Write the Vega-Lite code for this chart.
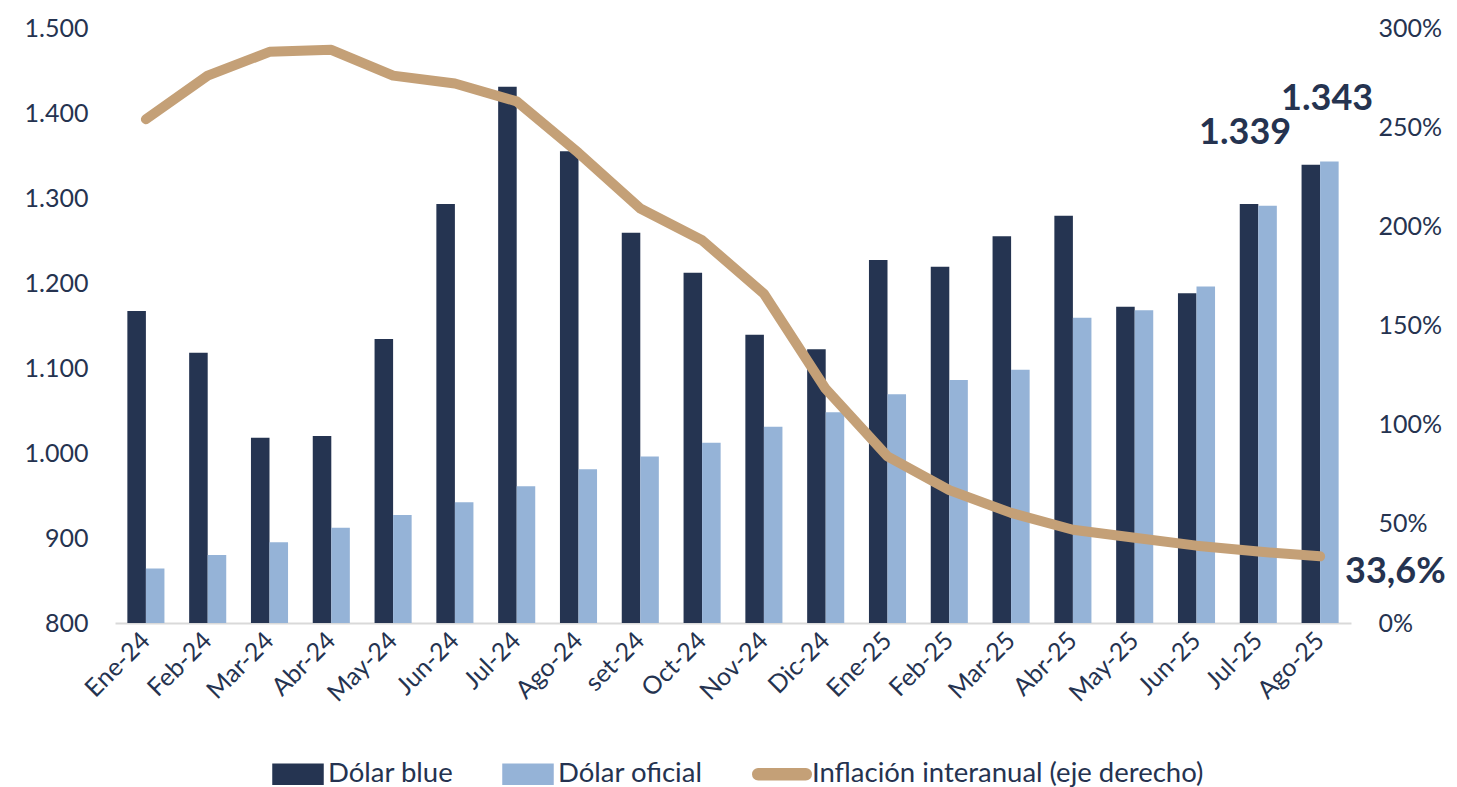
{
  "$schema": "https://vega.github.io/schema/vega-lite/v6.json",
  "width": 1236,
  "height": 595,
  "autosize": {"type": "none"},
  "padding": {"left": 115, "top": 28, "right": 106, "bottom": 164},
  "background": "white",
  "config": {
    "locale": {"number": {"decimal": ",", "thousands": ".", "grouping": [3], "currency": ["$", ""]}},
    "font": "Lato",
    "view": {"stroke": null},
    "axis": {"labelFont": "Lato", "labelFontSize": 25, "labelColor": "#253350", "grid": false, "ticks": false, "domain": false, "title": null}
  },
  "datasets": {
    "dolar": [
      {"mes": "Ene-24", "serie": "Dólar blue", "valor": 1167}, {"mes": "Ene-24", "serie": "Dólar oficial", "valor": 864},
      {"mes": "Feb-24", "serie": "Dólar blue", "valor": 1118}, {"mes": "Feb-24", "serie": "Dólar oficial", "valor": 880},
      {"mes": "Mar-24", "serie": "Dólar blue", "valor": 1018}, {"mes": "Mar-24", "serie": "Dólar oficial", "valor": 895},
      {"mes": "Abr-24", "serie": "Dólar blue", "valor": 1020}, {"mes": "Abr-24", "serie": "Dólar oficial", "valor": 912},
      {"mes": "May-24", "serie": "Dólar blue", "valor": 1134}, {"mes": "May-24", "serie": "Dólar oficial", "valor": 927},
      {"mes": "Jun-24", "serie": "Dólar blue", "valor": 1293}, {"mes": "Jun-24", "serie": "Dólar oficial", "valor": 942},
      {"mes": "Jul-24", "serie": "Dólar blue", "valor": 1431}, {"mes": "Jul-24", "serie": "Dólar oficial", "valor": 961},
      {"mes": "Ago-24", "serie": "Dólar blue", "valor": 1355}, {"mes": "Ago-24", "serie": "Dólar oficial", "valor": 981},
      {"mes": "set-24", "serie": "Dólar blue", "valor": 1259}, {"mes": "set-24", "serie": "Dólar oficial", "valor": 996},
      {"mes": "Oct-24", "serie": "Dólar blue", "valor": 1212}, {"mes": "Oct-24", "serie": "Dólar oficial", "valor": 1012},
      {"mes": "Nov-24", "serie": "Dólar blue", "valor": 1139}, {"mes": "Nov-24", "serie": "Dólar oficial", "valor": 1031},
      {"mes": "Dic-24", "serie": "Dólar blue", "valor": 1122}, {"mes": "Dic-24", "serie": "Dólar oficial", "valor": 1048},
      {"mes": "Ene-25", "serie": "Dólar blue", "valor": 1227}, {"mes": "Ene-25", "serie": "Dólar oficial", "valor": 1069},
      {"mes": "Feb-25", "serie": "Dólar blue", "valor": 1219}, {"mes": "Feb-25", "serie": "Dólar oficial", "valor": 1086},
      {"mes": "Mar-25", "serie": "Dólar blue", "valor": 1255}, {"mes": "Mar-25", "serie": "Dólar oficial", "valor": 1098},
      {"mes": "Abr-25", "serie": "Dólar blue", "valor": 1279}, {"mes": "Abr-25", "serie": "Dólar oficial", "valor": 1159},
      {"mes": "May-25", "serie": "Dólar blue", "valor": 1172}, {"mes": "May-25", "serie": "Dólar oficial", "valor": 1168},
      {"mes": "Jun-25", "serie": "Dólar blue", "valor": 1188}, {"mes": "Jun-25", "serie": "Dólar oficial", "valor": 1196},
      {"mes": "Jul-25", "serie": "Dólar blue", "valor": 1293}, {"mes": "Jul-25", "serie": "Dólar oficial", "valor": 1291},
      {"mes": "Ago-25", "serie": "Dólar blue", "valor": 1339}, {"mes": "Ago-25", "serie": "Dólar oficial", "valor": 1343}
    ],
    "inflacion": [
      {"mes": "Ene-24", "inflacion": 2.54}, {"mes": "Feb-24", "inflacion": 2.76}, {"mes": "Mar-24", "inflacion": 2.88},
      {"mes": "Abr-24", "inflacion": 2.89}, {"mes": "May-24", "inflacion": 2.76}, {"mes": "Jun-24", "inflacion": 2.72},
      {"mes": "Jul-24", "inflacion": 2.63}, {"mes": "Ago-24", "inflacion": 2.37}, {"mes": "set-24", "inflacion": 2.09},
      {"mes": "Oct-24", "inflacion": 1.93}, {"mes": "Nov-24", "inflacion": 1.66}, {"mes": "Dic-24", "inflacion": 1.18},
      {"mes": "Ene-25", "inflacion": 0.84}, {"mes": "Feb-25", "inflacion": 0.67}, {"mes": "Mar-25", "inflacion": 0.555},
      {"mes": "Abr-25", "inflacion": 0.47}, {"mes": "May-25", "inflacion": 0.43}, {"mes": "Jun-25", "inflacion": 0.39},
      {"mes": "Jul-25", "inflacion": 0.36}, {"mes": "Ago-25", "inflacion": 0.336}
    ]
  },
  "layer": [
    {
      "data": {"name": "dolar"},
      "mark": {"type": "bar"},
      "encoding": {
        "x": {
          "field": "mes", "type": "nominal",
          "scale": {
            "domain": ["Ene-24","Feb-24","Mar-24","Abr-24","May-24","Jun-24","Jul-24","Ago-24","set-24","Oct-24","Nov-24","Dic-24","Ene-25","Feb-25","Mar-25","Abr-25","May-25","Jun-25","Jul-25","Ago-25"],
            "paddingInner": 0.4, "paddingOuter": 0.2
          },
          "axis": {"labelAngle": -45, "labelAlign": "right", "labelBaseline": "middle", "labelPadding": 13, "domain": true, "domainColor": "#d9d9d9", "domainWidth": 2, "ticks": false, "title": null}
        },
        "xOffset": {"field": "serie", "type": "nominal", "sort": ["Dólar blue", "Dólar oficial"], "scale": {"paddingInner": 0}},
        "y": {
          "field": "valor", "type": "quantitative",
          "scale": {"domain": [800, 1500], "zero": false, "nice": false},
          "axis": {"orient": "left", "values": [800, 900, 1000, 1100, 1200, 1300, 1400, 1500], "format": ",.0f", "labelPadding": 27}
        },
        "y2": {"datum": 800},
        "color": {
          "field": "serie", "type": "nominal",
          "scale": {
            "domain": ["Dólar blue", "Dólar oficial", "Inflación interanual (eje derecho)"],
            "range": ["#253451", "#95b3d7", "#c4a077"]
          },
          "legend": {
            "orient": "none", "legendX": 157, "legendY": 720, "direction": "horizontal", "title": null,
            "labelFont": "Lato", "labelFontSize": 27.5, "labelColor": "#253350", "labelOffset": 4, "labelLimit": 0,
            "columnPadding": 46, "symbolSize": 2500, "padding": 0,
            "symbolType": "M-1,-0.4H1V0.4H-1Z",
            "encode": {
              "symbols": {
                "update": {
                  "shape": {"signal": "datum.value === 'Inflación interanual (eje derecho)' ? 'M-0.95,-0.22H0.95A0.22,0.22 0 0 1 0.95,0.22H-0.95A0.22,0.22 0 0 1 -0.95,-0.22Z' : 'M-1,-0.4H1V0.4H-1Z'"},
                  "fill": {"scale": "color", "field": "value"},
                  "stroke": {"value": "transparent"},
                  "opacity": {"value": 1}
                }
              }
            }
          }
        }
      }
    },
    {
      "data": {"name": "inflacion"},
      "mark": {"type": "line", "strokeWidth": 10, "strokeCap": "round", "strokeJoin": "round"},
      "encoding": {
        "x": {"field": "mes", "type": "nominal"},
        "y": {
          "field": "inflacion", "type": "quantitative",
          "scale": {"domain": [0, 3], "nice": false},
          "axis": {"orient": "right", "values": [0, 0.5, 1, 1.5, 2, 2.5, 3], "format": ".0%", "labelPadding": 27}
        },
        "color": {"datum": "Inflación interanual (eje derecho)"}
      }
    },
    {
      "data": {"name": "dolar"},
      "transform": [{"filter": "datum.mes === 'Ago-25' && datum.serie === 'Dólar blue'"}],
      "mark": {"type": "text", "dx": -75, "dy": -21, "align": "center", "baseline": "alphabetic", "font": "Lato", "fontSize": 36, "fontWeight": "bold", "color": "#253350"},
      "encoding": {
        "x": {"field": "mes", "type": "nominal"},
        "y": {"field": "valor", "type": "quantitative", "scale": {"domain": [800, 1500], "zero": false, "nice": false}, "axis": null},
        "text": {"field": "valor", "type": "quantitative", "format": ",.0f"}
      }
    },
    {
      "data": {"name": "dolar"},
      "transform": [{"filter": "datum.mes === 'Ago-25' && datum.serie === 'Dólar oficial'"}],
      "mark": {"type": "text", "dx": 7, "dy": -51, "align": "center", "baseline": "alphabetic", "font": "Lato", "fontSize": 36, "fontWeight": "bold", "color": "#253350"},
      "encoding": {
        "x": {"field": "mes", "type": "nominal"},
        "y": {"field": "valor", "type": "quantitative", "scale": {"domain": [800, 1500], "zero": false, "nice": false}, "axis": null},
        "text": {"field": "valor", "type": "quantitative", "format": ",.0f"}
      }
    },
    {
      "data": {"name": "inflacion"},
      "transform": [{"filter": "datum.mes === 'Ago-25'"}],
      "mark": {"type": "text", "dx": 25, "dy": 27, "align": "left", "baseline": "alphabetic", "font": "Lato", "fontSize": 36, "fontWeight": "bold", "color": "#253350"},
      "encoding": {
        "x": {"field": "mes", "type": "nominal"},
        "y": {"field": "inflacion", "type": "quantitative", "scale": {"domain": [0, 3], "nice": false}, "axis": null},
        "text": {"field": "inflacion", "type": "quantitative", "format": ".1%"}
      }
    }
  ],
  "resolve": {"scale": {"y": "independent"}}
}
